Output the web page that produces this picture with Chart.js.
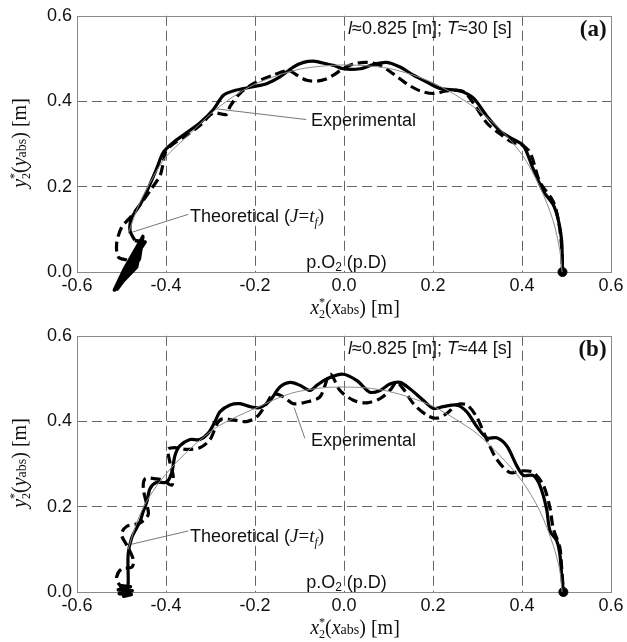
<!DOCTYPE html>
<html><head><meta charset="utf-8">
<script src="https://cdn.jsdelivr.net/npm/chart.js@4/dist/chart.umd.min.js"></script>
<style>
html,body{margin:0;padding:0;background:#fff}
#wrap{position:relative;width:627px;height:642px;background:#fff;overflow:hidden}
canvas{position:absolute;left:0}
</style>
</head><body>
<div id="wrap">
<canvas id="c1" width="627" height="320" style="top:0"></canvas>
<canvas id="c2" width="627" height="322" style="top:320px"></canvas>
</div>
<script>
// ---------- data ----------
const xTicks = [-0.6, -0.4, -0.2, 0.0, 0.2, 0.4, 0.6];
const yTicks = [0.0, 0.2, 0.4, 0.6];
const periodsT = ['30', '44'];
const panelLabels = ['(a)', '(b)'];
const lengthL = '0.825';

// panel (a)
const theoreticalA = [[-0.47,0.074],[-0.481,0.097],[-0.477,0.127],[-0.458,0.158],[-0.44,0.196],[-0.421,0.242],[-0.406,0.28],[-0.384,0.303],[-0.354,0.326],[-0.324,0.349],[-0.294,0.38],[-0.271,0.414],[-0.249,0.424],[-0.204,0.434],[-0.174,0.441],[-0.144,0.457],[-0.114,0.48],[-0.091,0.491],[-0.069,0.494],[-0.054,0.491],[-0.024,0.484],[-0.002,0.476],[0.036,0.476],[0.066,0.486],[0.096,0.491],[0.126,0.48],[0.156,0.461],[0.186,0.445],[0.216,0.43],[0.261,0.424],[0.291,0.407],[0.321,0.365],[0.351,0.33],[0.38,0.311],[0.403,0.296],[0.425,0.242],[0.448,0.189],[0.47,0.158],[0.482,0.12],[0.489,0.074],[0.491,0.0]];
const blobA = [[-0.516,-0.042],[-0.493,0.008],[-0.452,0.083],[-0.466,0.012],[-0.516,-0.042],[-0.486,0.01],[-0.452,0.083],[-0.472,0.011],[-0.516,-0.042],[-0.479,0.01],[-0.452,0.083],[-0.46,0.03],[-0.51,-0.04],[-0.498,-0.01],[-0.447,0.07],[-0.47,0.074]];
const experimentalA = [[-0.488,0.028],[-0.507,0.035],[-0.511,0.066],[-0.5,0.104],[-0.481,0.127],[-0.458,0.158],[-0.432,0.196],[-0.413,0.227],[-0.406,0.257],[-0.402,0.28],[-0.384,0.3],[-0.354,0.32],[-0.324,0.343],[-0.294,0.372],[-0.264,0.369],[-0.256,0.388],[-0.234,0.418],[-0.204,0.441],[-0.159,0.461],[-0.125,0.472],[-0.106,0.461],[-0.084,0.449],[-0.061,0.447],[-0.04,0.452],[-0.024,0.461],[-0.002,0.476],[0.021,0.487],[0.051,0.491],[0.081,0.484],[0.111,0.464],[0.141,0.441],[0.171,0.424],[0.201,0.418],[0.231,0.424],[0.268,0.423],[0.291,0.395],[0.321,0.349],[0.351,0.323],[0.38,0.303],[0.396,0.3],[0.418,0.28],[0.44,0.211],[0.47,0.165],[0.482,0.12],[0.489,0.06],[0.491,0.0]];
const referenceA = [[-0.485,0.09],[-0.46,0.16],[-0.43,0.22],[-0.4,0.27],[-0.35,0.32],[-0.3,0.37],[-0.25,0.41],[-0.2,0.44],[-0.15,0.46],[-0.1,0.475],[-0.05,0.482],[0.0,0.485],[0.05,0.483],[0.1,0.477],[0.15,0.463],[0.2,0.443],[0.25,0.415],[0.3,0.38],[0.35,0.335],[0.4,0.275],[0.44,0.2],[0.47,0.12],[0.485,0.05],[0.49,0.0]];

// panel (b)
const theoreticalB = [[-0.488,-0.003],[-0.485,0.02],[-0.485,0.089],[-0.477,0.127],[-0.466,0.15],[-0.458,0.166],[-0.451,0.189],[-0.443,0.211],[-0.436,0.242],[-0.421,0.257],[-0.399,0.257],[-0.387,0.28],[-0.38,0.319],[-0.369,0.342],[-0.346,0.357],[-0.324,0.357],[-0.305,0.372],[-0.29,0.399],[-0.279,0.422],[-0.256,0.438],[-0.234,0.441],[-0.211,0.434],[-0.189,0.432],[-0.166,0.449],[-0.144,0.48],[-0.121,0.491],[-0.099,0.484],[-0.076,0.472],[-0.06,0.485],[-0.039,0.499],[-0.002,0.51],[0.029,0.495],[0.058,0.468],[0.081,0.472],[0.103,0.487],[0.126,0.491],[0.148,0.476],[0.178,0.449],[0.201,0.43],[0.223,0.434],[0.253,0.438],[0.276,0.422],[0.298,0.388],[0.321,0.361],[0.343,0.361],[0.366,0.342],[0.388,0.296],[0.403,0.273],[0.425,0.273],[0.44,0.25],[0.455,0.196],[0.463,0.143],[0.478,0.12],[0.485,0.089],[0.489,0.043],[0.493,0.0]];
const blobB = [[-0.505,0.015],[-0.48,0.012],[-0.507,0.005],[-0.476,0.003],[-0.505,-0.004],[-0.478,-0.006],[-0.495,-0.01],[-0.485,-0.003]];
const experimentalB = [[-0.492,0.005],[-0.507,0.02],[-0.511,0.035],[-0.5,0.054],[-0.477,0.058],[-0.473,0.074],[-0.485,0.104],[-0.5,0.135],[-0.488,0.154],[-0.458,0.162],[-0.44,0.181],[-0.443,0.204],[-0.451,0.242],[-0.447,0.265],[-0.421,0.265],[-0.406,0.261],[-0.387,0.25],[-0.384,0.273],[-0.391,0.303],[-0.395,0.334],[-0.38,0.338],[-0.354,0.334],[-0.324,0.338],[-0.301,0.357],[-0.279,0.403],[-0.249,0.403],[-0.219,0.399],[-0.196,0.41],[-0.174,0.441],[-0.159,0.464],[-0.136,0.457],[-0.114,0.441],[-0.084,0.445],[-0.054,0.457],[-0.031,0.51],[-0.009,0.472],[0.021,0.449],[0.051,0.443],[0.081,0.453],[0.103,0.472],[0.118,0.491],[0.133,0.476],[0.156,0.441],[0.186,0.414],[0.208,0.407],[0.231,0.418],[0.253,0.438],[0.276,0.438],[0.298,0.41],[0.321,0.357],[0.343,0.311],[0.373,0.28],[0.403,0.284],[0.425,0.28],[0.448,0.25],[0.463,0.196],[0.47,0.15],[0.485,0.104],[0.489,0.058],[0.493,0.0]];
const referenceB = [[-0.485,0.1],[-0.47,0.15],[-0.45,0.2],[-0.42,0.25],[-0.38,0.3],[-0.33,0.35],[-0.28,0.39],[-0.2,0.43],[-0.12,0.465],[-0.05,0.478],[0.0,0.48],[0.05,0.478],[0.1,0.47],[0.15,0.455],[0.2,0.435],[0.25,0.405],[0.3,0.37],[0.35,0.32],[0.4,0.26],[0.44,0.19],[0.47,0.11],[0.485,0.05],[0.49,0.0]];

const endPointA = [[0.491, 0.0]];
const endPointB = [[0.493, 0.0]];

// ---------- drawing helpers ----------
const SANS = '"Liberation Sans", Arial, sans-serif';
const SERIF = '"Liberation Serif", "Times New Roman", serif';

function segWidth(ctx, s) {
  if (s.stack) { ctx.font = s.f; return Math.max(ctx.measureText(s.stack[0]).width, ctx.measureText(s.stack[1]).width); }
  ctx.font = s.f; return ctx.measureText(s.t).width;
}
function rich(ctx, segs, x, y, align) {
  let w = 0; segs.forEach(s => w += segWidth(ctx, s));
  let cx = align === 'center' ? x - w / 2 : (align === 'right' ? x - w : x);
  ctx.textBaseline = 'alphabetic'; ctx.textAlign = 'left';
  segs.forEach(s => {
    const sw = segWidth(ctx, s);
    ctx.font = s.f;
    if (s.stack) {
      ctx.fillText(s.stack[0], cx, y - 8);
      ctx.fillText(s.stack[1], cx, y + 4);
    } else {
      ctx.fillText(s.t, cx, y + (s.dy || 0));
    }
    cx += sw;
  });
}

const panelPlugin = {
  id: 'panel',
  beforeDatasetsDraw(chart, args, o) {
    const ctx = chart.ctx, ca = chart.chartArea, xs = chart.scales.x, ys = chart.scales.y;
    ctx.save();
    ctx.setLineDash([]);
    ctx.strokeStyle = '#8a8a8a'; ctx.lineWidth = 1;
    ctx.strokeRect(Math.round(ca.left) + 0.5, Math.round(ca.top) + 0.5, Math.round(ca.right - ca.left), Math.round(ca.bottom - ca.top));
    ctx.strokeStyle = '#777'; ctx.lineWidth = 1;
    o.leaders.forEach(l => {
      ctx.beginPath();
      ctx.moveTo(xs.getPixelForValue(l[0]), ys.getPixelForValue(l[1]));
      ctx.lineTo(xs.getPixelForValue(l[2]), ys.getPixelForValue(l[3]));
      ctx.stroke();
    });
    ctx.restore();
  },
  afterDraw(chart, args, o) {
    const ctx = chart.ctx, xs = chart.scales.x, ys = chart.scales.y;
    const px = v => xs.getPixelForValue(v), py = v => ys.getPixelForValue(v);
    ctx.save();
    ctx.fillStyle = '#111';
    rich(ctx, [{t: 'Experimental', f: '18px ' + SANS}], px(o.expText[0]), py(o.expText[1]) + 6, 'left');
    rich(ctx, [
      {t: 'Theoretical (', f: '18px ' + SANS},
      {t: 'J', f: 'italic 19px ' + SERIF},
      {t: '=', f: '19px ' + SERIF},
      {t: 't', f: 'italic 19px ' + SERIF},
      {t: 'f', f: 'italic 12px ' + SERIF, dy: 4},
      {t: ')', f: '19px ' + SERIF}
    ], px(o.theoText[0]), py(o.theoText[1]) + 6, 'left');
    rich(ctx, [
      {t: 'p.O', f: '18px ' + SANS},
      {t: '2', f: '12px ' + SANS, dy: 3},
      {t: ' (p.D)', f: '18px ' + SANS}
    ], px(o.poText[0]), py(o.poText[1]) + 6, 'left');
    rich(ctx, [
      {t: 'l', f: 'italic 18px ' + SANS},
      {t: '\u2248' + lengthL + ' [m]; ', f: '18px ' + SANS},
      {t: 'T', f: 'italic 18px ' + SANS},
      {t: '\u2248' + o.T + ' [s]', f: '18px ' + SANS}
    ], px(o.header[0]), py(o.header[1]) + 6, 'left');
    rich(ctx, [{t: o.label, f: 'bold 23px ' + SERIF}], px(o.labelPos[0]), py(o.labelPos[1]) + 8, 'right');
    rich(ctx, [
      {t: 'x', f: 'italic 20px ' + SERIF},
      {stack: ['*', '2'], f: '12px ' + SERIF},
      {t: '(', f: '20px ' + SERIF},
      {t: 'x', f: 'italic 20px ' + SERIF},
      {t: 'abs', f: '14px ' + SERIF},
      {t: ') [m]', f: '20px ' + SERIF}
    ], 355, 314, 'center');
    ctx.translate(26, 143);
    ctx.rotate(-Math.PI / 2);
    rich(ctx, [
      {t: 'y', f: 'italic 20px ' + SERIF},
      {stack: ['*', '2'], f: '12px ' + SERIF},
      {t: '(', f: '20px ' + SERIF},
      {t: 'y', f: 'italic 20px ' + SERIF},
      {t: 'abs', f: '14px ' + SERIF},
      {t: ') [m]', f: '20px ' + SERIF}
    ], 0, 0, 'center');
    ctx.restore();
  }
};

function edgeAware(edges) {
  return c => edges.some(e => Math.abs(c.tick.value - e) < 1e-6) ? 'rgba(0,0,0,0)' : '#666';
}

function pts(arr) { return arr.map(p => ({x: p[0], y: p[1]})); }

function makeChart(id, H, sets, cfg) {
  const solid = {borderColor: '#000', borderWidth: 3.2, pointRadius: 0, showLine: true, tension: 0.3, clip: false, fill: false};
  new Chart(document.getElementById(id), {
    type: 'scatter',
    data: {
      datasets: [
        Object.assign({}, solid, {data: pts(sets.ref), borderColor: '#8c8c8c', borderWidth: 1}),
        Object.assign({}, solid, {data: pts(sets.exp), borderDash: [10, 5]}),
        Object.assign({}, solid, {data: pts(sets.blob), tension: 0, borderWidth: 3.6, borderJoinStyle: 'round'}),
        Object.assign({}, solid, {data: pts(sets.theo)}),
        {data: pts(sets.end), pointRadius: 4.5, pointBackgroundColor: '#000', pointBorderColor: '#000', showLine: false, clip: false}
      ]
    },
    options: {
      responsive: false, animation: false,
      layout: {padding: {top: 12, right: 16, left: 0, bottom: 0}},
      elements: {line: {capBezierPoints: false}},
      plugins: {legend: {display: false}, tooltip: {enabled: false}, panel: cfg},
      scales: {
        x: {
          type: 'linear', min: -0.6, max: 0.6,
          afterBuildTicks: s => { s.ticks = xTicks.map(v => ({value: v})); },
          afterFit: s => { s.height = H - 272; },
          ticks: {font: {family: SANS, size: 18}, color: '#111', padding: 3, maxRotation: 0, autoSkip: false, callback: v => v.toFixed(1)},
          grid: {color: edgeAware([-0.6, 0.6]), drawTicks: false, lineWidth: 1},
          border: {display: false, dash: [10, 5]}
        },
        y: {
          type: 'linear', min: 0, max: 0.6,
          afterBuildTicks: s => { s.ticks = yTicks.map(v => ({value: v})); },
          afterFit: s => { s.width = 77; },
          ticks: {font: {family: SANS, size: 18}, color: '#111', padding: 5, autoSkip: false, callback: v => v.toFixed(1)},
          grid: {color: edgeAware([0, 0.6]), drawTicks: false, lineWidth: 1},
          border: {display: false, dash: [10, 5]}
        }
      }
    },
    plugins: [panelPlugin]
  });
}

const common = {
  expText: [-0.074, 0.356],
  theoText: [-0.346, 0.13],
  poText: [-0.085, 0.023],
  header: [0.009, 0.572],
  labelPos: [0.59, 0.572]
};

makeChart('c1', 320,
  {ref: referenceA, exp: experimentalA, blob: blobA, theo: theoreticalA, end: endPointA},
  Object.assign({}, common, {T: periodsT[0], label: panelLabels[0],
    leaders: [[-0.286, 0.382, -0.085, 0.357], [-0.477, 0.093, -0.35, 0.135]]}));

makeChart('c2', 322,
  {ref: referenceB, exp: experimentalB, blob: blobB, theo: theoreticalB, end: endPointB},
  Object.assign({}, common, {T: periodsT[1], label: panelLabels[1],
    leaders: [[-0.112, 0.432, -0.088, 0.36], [-0.477, 0.112, -0.35, 0.143]]}));
</script>
</body></html>
